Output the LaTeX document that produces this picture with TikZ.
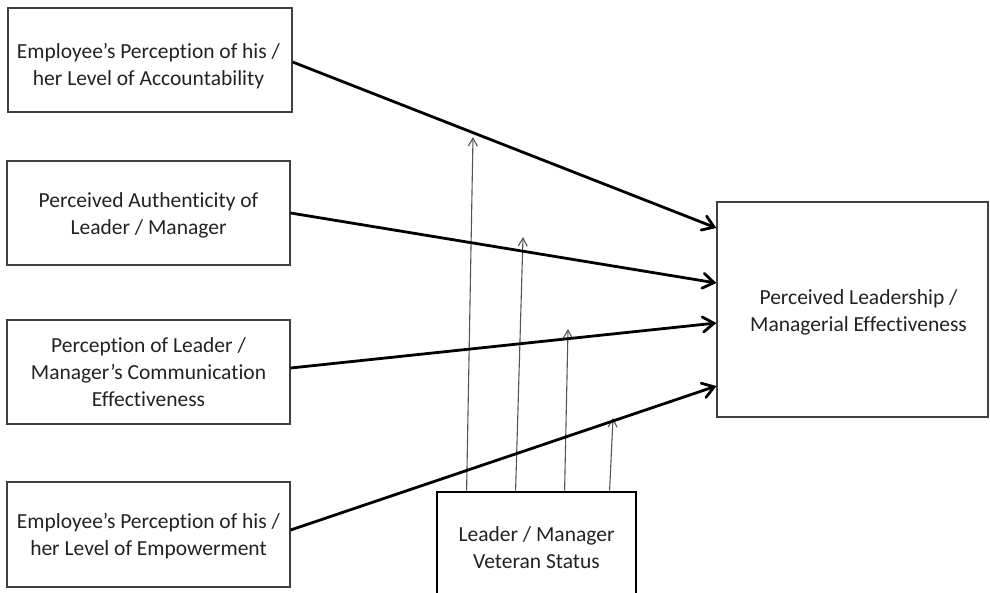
\documentclass[tikz,border=0pt]{standalone}
\usepackage{fontspec}
\setmainfont{Carlito}[Ligatures=CommonOff]
\usetikzlibrary{arrows.meta}
\definecolor{boxline}{HTML}{404040}
\definecolor{txt}{HTML}{222222}
\definecolor{modline}{HTML}{555555}
% struts that fix the height of the first line and the depth of the last one
\newcommand\fsTop{\rule{0pt}{16pt}}
\newcommand\fsBot{\rule[-5pt]{0pt}{5pt}}
\begin{document}
\begin{tikzpicture}[x=1pt,y=-1pt,
  factor/.style={draw=boxline,line width=1.2pt,inner sep=0pt},
  lbl/.style={align=center,text=txt,font=\fontsize{21.5}{27}\selectfont,inner sep=0pt},
  mainarrow/.style={line width=2.8pt,-{Straight Barb[length=11pt,width=15pt,line cap=round]}},
  modarrow/.style={draw=modline,line width=1.1pt,-{Straight Barb[length=8pt,width=9pt]}}]
\useasboundingbox (0,0) rectangle (990,592);
\clip (0,0) rectangle (990,592);

% predictor boxes
\node[factor,minimum width=284pt,minimum height=104pt] (acc) at (150,60) {};
\node[lbl] (acctext) at (148.5,66)
  {\fsTop Employee’s Perception of his /\\her Level of Accountability\fsBot};
\node[factor,minimum width=283pt,minimum height=104pt] (auth) at (148.5,213) {};
\node[lbl] (authtext) at (148.5,215.5)
  {\fsTop Perceived Authenticity of\\Leader / Manager\fsBot};
\node[factor,minimum width=283pt,minimum height=104pt] (comm) at (148.5,372) {};
\node[lbl] (commtext) at (148.5,373.5)
  {\fsTop Perception of Leader /\\Manager’s Communication\\Effectiveness\fsBot};
\node[factor,minimum width=283pt,minimum height=105pt] (emp) at (148.5,534.5) {};
\node[lbl] (emptext) at (148.5,536)
  {\fsTop Employee’s Perception of his /\\her Level of Empowerment\fsBot};

% outcome box
\node[factor,minimum width=271pt,minimum height=215pt] (eff) at (852.5,309.5) {};
\node[lbl] (efftext) at (858.5,312)
  {\fsTop Perceived Leadership /\\Managerial Effectiveness\fsBot};

% moderator box (runs past the lower edge)
\node[factor,draw=black,line width=2.8pt,minimum width=199pt,minimum height=140pt] (vet) at (536.5,562) {};
\node[lbl] (vettext) at (536.5,549)
  {\fsTop Leader / Manager\\Veteran Status\fsBot};

% moderating arrows
\coordinate (m1) at (473,137);
\coordinate (m2) at (523,237);
\coordinate (m3) at (568,329);
\coordinate (m4) at (613,418);
\draw[modarrow] (vet.north west) ++(31,0) coordinate (v1) -- (m1);
\draw[modarrow] (vet.north west) ++(80,0) coordinate (v2) -- (m2);
\draw[modarrow] (vet.north west) ++(129,0) coordinate (v3) -- (m3);
\draw[modarrow] (vet.north west) ++(174,0) coordinate (v4) -- (m4);

% direct effects
\draw[mainarrow] (acc.east |- 0,62) -- (eff.west |- 0,228);
\draw[mainarrow] (auth.east |- 0,213) -- (eff.west |- 0,283);
\draw[mainarrow] (comm.east |- 0,368) -- (eff.west |- 0,323);
\draw[mainarrow] (emp.east |- 0,530) -- (eff.west |- 0,386);
\end{tikzpicture}
\end{document}
